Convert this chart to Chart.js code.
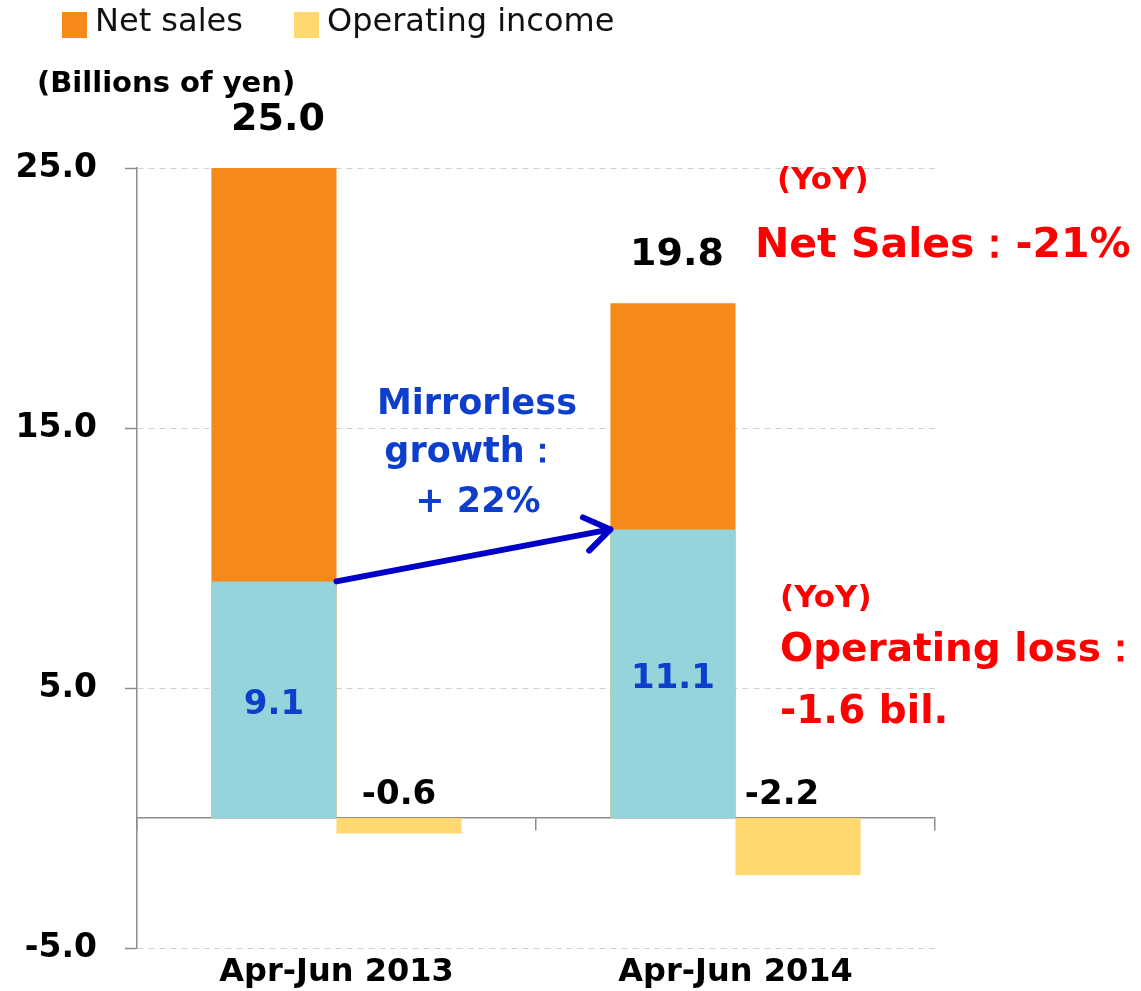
<!DOCTYPE html>
<html>
<head>
<meta charset="utf-8">
<script src="https://cdn.jsdelivr.net/npm/chart.js@4"></script>
<style>
  body { margin: 0; background: #fff; }
</style>
</head>
<body>
<canvas id="chart" width="1141" height="991"></canvas>
<script>
const quarters = ['Apr-Jun 2013', 'Apr-Jun 2014'];
const netSales = [25.0, 19.8];
const operatingIncome = [-0.6, -2.2];
const mirrorlessSales = [9.1, 11.1];
const yTicks = [-5, 5, 15, 25];

const FONT = '"DejaVu Sans", Verdana, sans-serif';
const ORANGE = '#F5891A';
const YELLOW = '#FFD870';
const TEAL = '#96D4DB';

// labels, notes, arrow and legend drawn on top of the bars
const annotations = {
  id: 'annotations',
  afterDatasetsDraw(chart) {
    const ctx = chart.ctx;
    const mirror = chart.getDatasetMeta(0).data;
    const sales = chart.getDatasetMeta(1).data;
    const income = chart.getDatasetMeta(2).data;
    const zeroY = chart.scales.y.getPixelForValue(0);

    ctx.save();
    ctx.textBaseline = 'middle';
    ctx.textAlign = 'center';

    // net sales values above bars
    ctx.fillStyle = '#000';
    ctx.font = 'bold 38px ' + FONT;
    sales.forEach((bar, i) => {
      ctx.fillText(netSales[i].toFixed(1), bar.x + 4, bar.y - 48);
    });

    // mirrorless values in the middle of the teal bars
    ctx.fillStyle = '#0D3FCC';
    ctx.font = 'bold 34px ' + FONT;
    mirror.forEach((bar, i) => {
      ctx.fillText(mirrorlessSales[i].toFixed(1), bar.x, (bar.y + zeroY) / 2 + 5);
    });

    // operating income values above zero line
    ctx.fillStyle = '#000';
    income.forEach((bar, i) => {
      ctx.fillText(operatingIncome[i].toFixed(1), bar.x - (i ? 16 : 0), zeroY - 23);
    });

    // mirrorless growth arrow
    const a = mirror[0], b = mirror[1];
    const x1 = a.x + a.width / 2, y1 = a.y;
    const x2 = b.x - b.width / 2, y2 = b.y;
    const ang = Math.atan2(y2 - y1, x2 - x1);
    ctx.strokeStyle = '#0000C8';
    ctx.lineWidth = 6;
    ctx.lineCap = 'round';
    ctx.lineJoin = 'round';
    ctx.beginPath();
    ctx.moveTo(x1, y1);
    ctx.lineTo(x2, y2);
    ctx.moveTo(x2 - 30 * Math.cos(ang - 0.6), y2 - 30 * Math.sin(ang - 0.6));
    ctx.lineTo(x2, y2);
    ctx.lineTo(x2 - 30 * Math.cos(ang + 0.6), y2 - 30 * Math.sin(ang + 0.6));
    ctx.stroke();

    ctx.fillStyle = '#0D3FCC';
    ctx.font = 'bold 35px ' + FONT;
    ctx.fillText('Mirrorless', 477, 405);
    ctx.fillText('growth：', 472, 453);
    ctx.fillText('+ 22%', 478, 503);

    // YoY notes
    ctx.textAlign = 'left';
    ctx.fillStyle = '#FF0000';
    ctx.font = 'bold 31px ' + FONT;
    ctx.fillText('(YoY)', 777, 181);
    ctx.fillText('(YoY)', 780, 599);
    ctx.font = 'bold 41px ' + FONT;
    ctx.fillText('Net Sales：-21%', 755, 246);
    ctx.font = 'bold 39px ' + FONT;
    ctx.fillText('Operating loss：', 780, 651);
    ctx.fillText('-1.6 bil.', 780, 713);

    // unit
    ctx.fillStyle = '#000';
    ctx.font = 'bold 29px ' + FONT;
    ctx.fillText('(Billions of yen)', 37, 84);

    // legend
    ctx.font = '32px ' + FONT;
    ctx.fillStyle = ORANGE;
    ctx.fillRect(62, 12, 25, 26);
    ctx.fillStyle = YELLOW;
    ctx.fillRect(294, 12, 25, 26);
    ctx.fillStyle = '#111';
    ctx.fillText('Net sales', 95, 23);
    ctx.fillText('Operating income', 327, 23);
    ctx.restore();
  }
};

new Chart(document.getElementById('chart'), {
  type: 'bar',
  data: {
    labels: quarters,
    datasets: [
      { label: 'Mirrorless', data: mirrorlessSales, backgroundColor: TEAL, stack: 'sales', order: 0 },
      { label: 'Net sales', data: netSales, backgroundColor: ORANGE, stack: 'sales', order: 1 },
      { label: 'Operating income', data: operatingIncome, backgroundColor: YELLOW, stack: 'income', order: 2 }
    ]
  },
  options: {
    responsive: false,
    animation: false,
    datasets: {
      bar: { categoryPercentage: 0.627, barPercentage: 1 }
    },
    layout: { padding: { top: 168, right: 206, left: 0, bottom: 0 } },
    plugins: {
      legend: { display: false },
      tooltip: { enabled: false }
    },
    scales: {
      x: {
        position: { y: 0 },
        offset: true,
        grid: { offset: true, drawOnChartArea: false, drawTicks: true, tickLength: 12, color: '#8c8c8c', lineWidth: 1.5 },
        border: { color: '#8c8c8c', width: 1.5 },
        ticks: { display: false }
      },
      xl: {
        type: 'category',
        position: 'bottom',
        offset: true,
        grid: { display: false, drawTicks: false },
        border: { display: false },
        ticks: { color: '#000', font: { family: FONT, size: 32, weight: 'bold' }, padding: 5 },
        afterFit: (s) => { s.height = 43; }
      },
      y: {
        min: -5,
        max: 25,
        stacked: false,
        afterBuildTicks: (s) => { s.ticks = yTicks.map((v) => ({ value: v })); },
        afterFit: (s) => { s.width = 137; s.paddingTop = 0; s.paddingBottom = 0; },
        grid: { color: '#d0d0d0', tickColor: '#8c8c8c', tickLength: 12, tickWidth: 1.5 },
        border: { color: '#8c8c8c', width: 1.5, dash: [6, 5] },
        ticks: {
          color: '#000',
          padding: 28,
          font: { family: FONT, size: 33, weight: 'bold' },
          callback: (v) => v.toFixed(1)
        }
      }
    }
  },
  plugins: [annotations]
});
</script>
</body>
</html>
